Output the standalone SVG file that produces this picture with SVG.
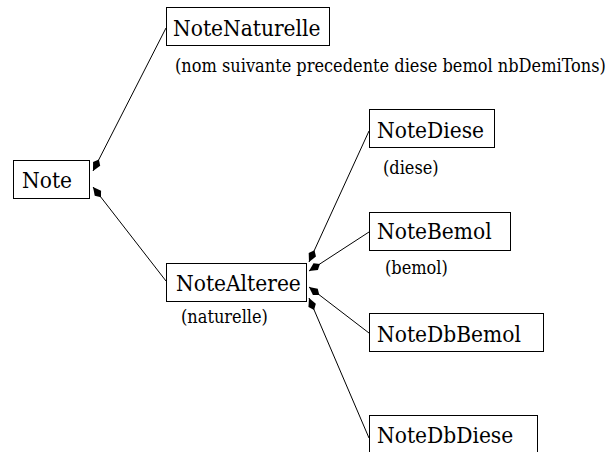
<svg xmlns="http://www.w3.org/2000/svg" width="608" height="452" viewBox="0 0 608 452">
<style>
.box{fill:#fff;stroke:#000;stroke-width:1}
.nt{font-family:"DejaVu Serif Condensed","DejaVu Serif",serif;font-stretch:condensed;font-size:22.5px;fill:#000}
.lb{font-family:"DejaVu Serif Condensed","DejaVu Serif",serif;font-stretch:condensed;font-size:18px;fill:#000}
.edge{stroke:#000;stroke-width:1;fill:none;marker-end:url(#arr)}
</style>
<defs>
<marker id="arr" markerUnits="userSpaceOnUse" viewBox="0 -5 14 10" refX="13" refY="0" markerWidth="14" markerHeight="10" orient="auto">
<path d="M0,0 L5,-4 L13,0 L5,4 Z" fill="#000"/>
</marker>
</defs>
<rect width="608" height="452" fill="#fff"/>
<g id="connectors">
<line class="edge" x1="166" y1="28" x2="93" y2="171"/>
<line class="edge" x1="166" y1="281" x2="93" y2="187"/>
<line class="edge" x1="369" y1="131" x2="309" y2="262"/>
<line class="edge" x1="369" y1="232" x2="309" y2="271"/>
<line class="edge" x1="369" y1="333" x2="309" y2="287"/>
<line class="edge" x1="369" y1="438" x2="309" y2="298"/>
</g>
<g id="NoteNaturelle">
<rect class="box" x="166.5" y="7.5" width="163" height="38"/>
<text class="nt" x="173" y="36">NoteNaturelle</text>
<text class="lb" x="175" y="72">(nom suivante precedente diese bemol nbDemiTons)</text>
</g>
<g id="Note">
<rect class="box" x="13.5" y="160.5" width="76" height="38"/>
<text class="nt" x="22" y="188">Note</text>
</g>
<g id="NoteAlteree">
<rect class="box" x="166.5" y="263.5" width="140" height="38"/>
<text class="nt" x="176" y="291">NoteAlteree</text>
<text class="lb" x="181" y="323">(naturelle)</text>
</g>
<g id="NoteDiese">
<rect class="box" x="369.5" y="109.5" width="125" height="38"/>
<text class="nt" x="377" y="138">NoteDiese</text>
<text class="lb" x="383" y="174">(diese)</text>
</g>
<g id="NoteBemol">
<rect class="box" x="369.5" y="212.5" width="141" height="38"/>
<text class="nt" x="377" y="239">NoteBemol</text>
<text class="lb" x="385" y="274">(bemol)</text>
</g>
<g id="NoteDbBemol">
<rect class="box" x="369.5" y="313.5" width="174" height="38"/>
<text class="nt" x="377" y="342">NoteDbBemol</text>
</g>
<g id="NoteDbDiese">
<rect class="box" x="369.5" y="415.5" width="168" height="40"/>
<text class="nt" x="377" y="443">NoteDbDiese</text>
</g>
</svg>
